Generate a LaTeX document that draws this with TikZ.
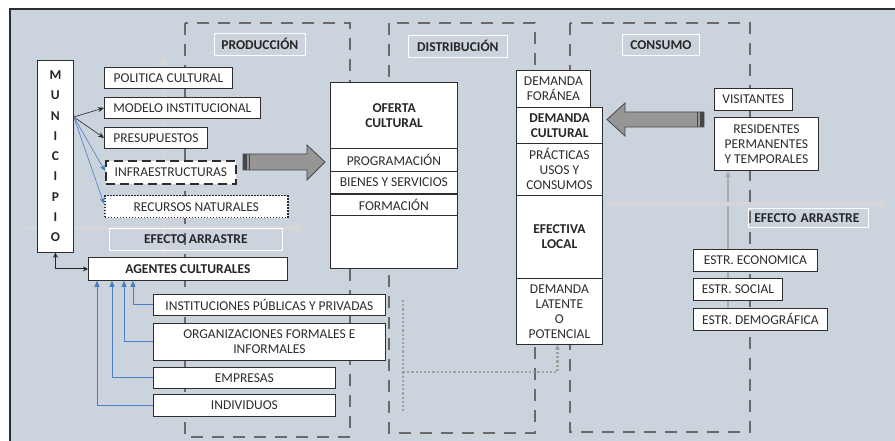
\documentclass[tikz,border=0pt]{standalone}
\usepackage{fontspec}
\setmainfont{Carlito}
\usetikzlibrary{calc,arrows.meta}
\definecolor{bg}{RGB}{203,211,221}
\definecolor{frame}{RGB}{45,45,45}
\definecolor{boxline}{RGB}{45,45,45}
\definecolor{txt}{RGB}{45,45,45}
\definecolor{dashc}{RGB}{105,105,105}
\definecolor{effc}{RGB}{212,214,217}
\definecolor{blueln}{RGB}{75,125,200}
\definecolor{bigfill}{RGB}{150,150,150}
\definecolor{bigline}{RGB}{70,70,70}
\definecolor{dotc}{RGB}{160,160,160}
\definecolor{upc}{RGB}{170,172,175}
\pgfdeclarelayer{panel}
\pgfdeclarelayer{under}
\pgfsetlayers{panel,under,main}
\tikzset{
  sz/.style 2 args={minimum width=#1pt, minimum height=#2pt},
  box/.style={draw=boxline, fill=white, line width=0.8pt, inner sep=1pt,
    anchor=north west, align=center, text=txt,
    font=\fontsize{13.5}{15}\selectfont},
  boldbox/.style={box, font=\bfseries\fontsize{13.5}{15}\selectfont, text=black!85},
  lab/.style={draw=white, line width=0.7pt, inner sep=1pt, anchor=north west,
    align=center, text=black!85, font=\bfseries\fontsize{13.5}{15}\selectfont},
  region/.style={draw=dashc, line width=2.3pt, dash pattern=on 12pt off 9pt},
  effect/.style={draw=effc, line width=4pt, -{Triangle[length=11pt,width=13pt]}},
  thinarr/.style={line width=0.6pt, -{Stealth[length=6pt,width=5pt]}},
  bluearr/.style={draw=blueln, line width=0.9pt, -{Triangle[length=6pt,width=5pt]}},
  bigarrow/.style={fill=bigfill, draw=bigline, line width=0.8pt},
}
\begin{document}
\begin{tikzpicture}[x=1pt,y=-1pt]
\useasboundingbox (0,0) rectangle (895,441);
% panel background and frame
\begin{pgfonlayer}{panel}
\fill[bg] (10,9) rectangle (895,441);
\draw[frame, line width=1.8pt] (10,441) -- (10,9) -- (895,9);
\end{pgfonlayer}

% stage regions
\draw[region] (185,23) rectangle (350,437);
\draw[region] (389,23) rectangle (535,433);
\draw[region] (570,23) rectangle (750,432);

% drag effect arrows
\coordinate (eaL1) at (25,228);
\coordinate (eaL2) at (306,228);
\draw[effect] (eaL1) -- (eaL2);
\coordinate (evT) at (163,56);
\coordinate (evB) at (163,256);
\draw[effect, line width=3pt, {Triangle[length=9pt,width=11pt]}-{Triangle[length=9pt,width=11pt]}] (evB) -- (evT);
\coordinate (eaR1) at (607,204);
\coordinate (eaR2) at (889,204);
\draw[effect] (eaR1) -- (eaR2);

% dotted feedback line
\coordinate (dtop) at (403,300);
\coordinate (dbot) at (403,413);
\coordinate (djoin) at (403,372);
\draw[dotc, line width=2.2pt, dotted] (dtop) -- (dbot);

% stage labels
\node[lab, sz={91}{22}] (lprod) at (214,33) {PRODUCCIÓN};
\node[lab, sz={99}{22}] (ldist) at (408,35) {DISTRIBUCIÓN};
\node[lab, sz={77}{21}] (lcons) at (622,34) {CONSUMO};
\node[lab, sz={173}{22}] (ea1) at (109,228) {EFECTO ARRASTRE};
\node[lab, minimum height=19pt, inner xsep=6pt, align=left, text width=108pt] (ea2) at (748,208) {EFECTO ARRASTRE};

% municipality column
\node[boldbox, sz={36}{192}, font=\bfseries\fontsize{13.5}{20.25}\selectfont] (mun) at (37,60)
  {M\\U\\N\\I\\C\\I\\P\\I\\O};

% production inputs
\node[box, sz={128}{21}] (pol) at (104,67) {POLITICA CULTURAL};
\node[box, sz={156}{21}] (mod) at (104,97) {MODELO INSTITUCIONAL};
\node[box, sz={103}{21}] (pre) at (104,127) {PRESUPUESTOS};
\node[box, sz={130}{23}, line width=1.8pt, dash pattern=on 9pt off 5pt] (inf) at (105,160) {INFRAESTRUCTURAS};
\node[box, sz={183}{22}, line width=1.5pt, dash pattern=on 1.5pt off 1.5pt] (rec) at (104,195) {RECURSOS NATURALES};

% cultural agents
\node[boldbox, sz={199}{23}] (age) at (88,257) {AGENTES CULTURALES};
\node[box, sz={232}{21}] (ins) at (153,294) {INSTITUCIONES PÚBLICAS Y PRIVADAS};
\node[box, sz={232}{37}] (org) at (153,323) {ORGANIZACIONES FORMALES E\\INFORMALES};
\node[box, sz={182}{21}] (emp) at (153,367) {EMPRESAS};
\node[box, sz={182}{22}] (ind) at (153,394) {INDIVIDUOS};

% cultural offer
\node[boldbox, sz={127}{66}, line width=1.2pt] (of1) at (330,82) {OFERTA\\CULTURAL};
\node[box, sz={127}{23}] (of2) at (330,148) {PROGRAMACIÓN};
\node[box, sz={127}{22}] (of3) at (330,171) {BIENES Y SERVICIOS};
\node[box, sz={127}{21}] (of4) at (330,194) {FORMACIÓN};
\node[box, sz={127}{53}] (of5) at (330,215) {};

% cultural demand
\node[box, sz={74}{37}] (d1) at (516,70) {DEMANDA\\FORÁNEA};
\node[boldbox, sz={86}{36}, line width=1.3pt] (d2) at (516,107) {DEMANDA\\CULTURAL};
\node[box, sz={86}{52}] (d3) at (516,143) {PRÁCTICAS\\USOS Y\\CONSUMOS};
\node[boldbox, sz={86}{83}] (d4) at (516,195) {EFECTIVA\\LOCAL};
\node[box, sz={86}{66}] (d5) at (516,278) {DEMANDA\\LATENTE\\O\\POTENCIAL};

% consumers
\node[box, sz={78}{22}] (vis) at (714,88) {VISITANTES};
\node[box, sz={104}{53}] (res) at (714,117) {RESIDENTES\\PERMANENTES\\Y TEMPORALES};
\node[box, sz={124}{22}] (eco) at (693,249) {ESTR. ECONOMICA};
\node[box, sz={89}{22}] (soc) at (693,278) {ESTR. SOCIAL};
\node[box, sz={134}{22}] (dem) at (693,308) {ESTR. DEMOGRÁFICA};

% structures feed residents (drawn beneath the boxes)
\coordinate (upS) at ($(dem.north west)+(35,0)$);
\coordinate (upE) at ($(res.south west)+(14,0)$);
\begin{pgfonlayer}{under}
\draw[upc, line width=1.6pt, -{Triangle[length=6pt,width=5pt]}] (upS) -- (upE);
\end{pgfonlayer}

% dotted link to latent demand
\draw[dotc, line width=2.2pt, dotted, -{Stealth[length=5pt,width=5pt]}] (djoin) -| ($(d5.south)+(-2,0)$);

% municipality connectors
\coordinate (munout) at ($(mun.north east)+(0,57)$);
\draw[thinarr, black!85] (munout) -- (mod.west);
\draw[thinarr, black!85] (munout) -- (pre.west);
\draw[thinarr, blueln] (munout) -- ($(inf.west)+(0,-1.5)$);
\draw[thinarr, blueln] (munout) -- ($(rec.west)+(0,-3)$);
\draw[line width=0.9pt, black!85, {Stealth[length=5pt,width=5pt]}-{Stealth[length=5pt,width=5pt]}] (mun.south) |- (age.west);

% agents feeding AGENTES CULTURALES
\draw[bluearr] (ins.west) -| ($(age.south west)+(45,0)$);
\draw[bluearr] (org.west) -| ($(age.south west)+(36,0)$);
\draw[bluearr] (emp.west) -| ($(age.south west)+(24,0)$);
\draw[bluearr] (ind.west) -| ($(age.south west)+(9,0)$);

% big transfer arrows
\draw[bigarrow] (243,154) -- (307,154) -- (307,145) -- (325,162) -- (307,180) -- (307,170) -- (243,170) -- cycle;
\fill[bigline] (243,154) rectangle (247,170);
\draw[bigline, line width=0.8pt] (249.5,154) -- (249.5,170);
\draw[bigarrow] (704,112) -- (625,112) -- (625,103) -- (607,119.5) -- (625,136) -- (625,127) -- (704,127) -- cycle;
\fill[bigline] (700,112) rectangle (704,127);
\draw[bigline, line width=0.8pt] (697.5,112) -- (697.5,127);
\end{tikzpicture}
\end{document}
